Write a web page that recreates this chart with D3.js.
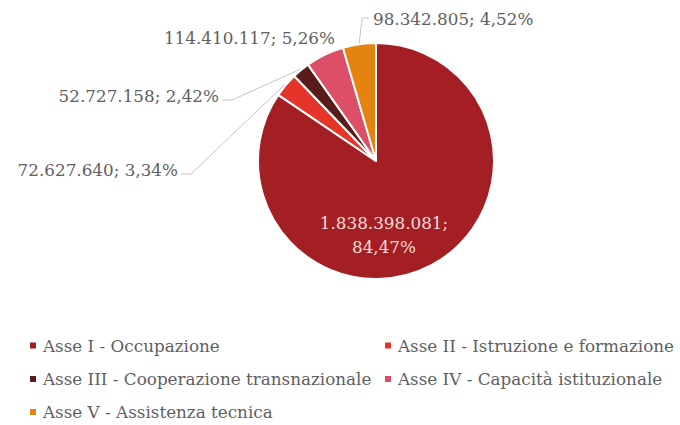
<!DOCTYPE html>
<html>
<head>
<meta charset="utf-8">
<script src="https://cdn.jsdelivr.net/npm/d3@7/dist/d3.min.js"></script>
<style>
  html, body { margin: 0; padding: 0; background: #ffffff; }
  svg { display: block; }
</style>
</head>
<body>
<svg id="chart" width="680" height="425"></svg>
<script>
// Risorse per Asse (euro)
const categories = [
  "Asse I - Occupazione",
  "Asse II - Istruzione e formazione",
  "Asse III - Cooperazione transnazionale",
  "Asse IV - Capacità istituzionale",
  "Asse V - Assistenza tecnica"
];
const values = [1838398081, 72627640, 52727158, 114410117, 98342805];
const colors = ["#a31f24", "#e5352a", "#5a1b1b", "#dc4f66", "#e4830f"];

// Label placement around the pie: [dx, dy, anchor] relative to the pie centre,
// plus whether a leader line joins the label to its slice.
const labelLayout = [
  { dx: 8,    dy: 68,   anchor: "middle", inside: true },
  { dx: -198, dy: 15,   anchor: "end",    leader: true },
  { dx: -157, dy: -59,  anchor: "end",    leader: true },
  { dx: -41,  dy: -117, anchor: "end",    leader: false },
  { dx: -3,   dy: -136, anchor: "start",  leader: true }
];

const FONT = "'DejaVu Serif', 'Liberation Serif', serif";
const TEXT_GREY = "#5f5f5f";

const it = d3.formatLocale({ decimal: ",", thousands: ".", grouping: [3], currency: ["€", ""] });
const fmtNum = it.format(",");
const fmtPct = it.format(",.2f");

const svg = d3.select("#chart");
const cx = 376, cy = 161, radius = 118;

const total = d3.sum(values);
const data = values.map((v, i) => ({ name: categories[i], value: v, share: v / total * 100, color: colors[i], i }));

const pie = d3.pie().value(d => d.value).sort(null);
const arcs = pie(data);
const arc = d3.arc().innerRadius(0).outerRadius(radius);

const g = svg.append("g").attr("transform", `translate(${cx},${cy})`);

g.selectAll("path.slice")
  .data(arcs)
  .enter().append("path")
  .attr("class", "slice")
  .attr("d", arc)
  .attr("fill", d => d.data.color)
  .attr("stroke", "#ffffff")
  .attr("stroke-width", 2)
  .attr("stroke-linejoin", "round");

// Data labels
const labelSize = 16.8;
arcs.forEach((a, k) => {
  const L = labelLayout[k];
  const num = fmtNum(a.data.value);
  const pct = fmtPct(a.data.share) + "%";
  if (L.inside) {
    const t = g.append("text")
      .attr("text-anchor", "middle")
      .attr("font-family", FONT)
      .attr("font-size", labelSize)
      .attr("fill", "#f6dcd9");
    t.append("tspan").attr("x", L.dx).attr("y", L.dy).text(num + ";");
    t.append("tspan").attr("x", L.dx).attr("y", L.dy + 24).text(pct);
    return;
  }
  g.append("text")
    .attr("x", L.dx).attr("y", L.dy)
    .attr("text-anchor", L.anchor)
    .attr("font-family", FONT)
    .attr("font-size", labelSize)
    .attr("fill", TEXT_GREY)
    .text(num + "; " + pct);

  if (L.leader) {
    const mid = (a.startAngle + a.endAngle) / 2;
    const tip = [Math.sin(mid) * (radius + 1), -Math.cos(mid) * (radius + 1)];
    const lineY = L.dy - (L.anchor === "start" ? 7 : 2);
    let pts;
    if (L.anchor === "end") {
      const x0 = L.dx + 3;
      pts = [[x0, lineY], [x0 + 10, lineY], tip];
    } else {
      const x0 = L.dx - 4;
      pts = [[x0, lineY], [tip[0] + 3, lineY], tip];
    }
    g.append("path")
      .attr("d", d3.line()(pts))
      .attr("fill", "none")
      .attr("stroke", "#c4c4c4")
      .attr("stroke-width", 1);
  }
});

// Legend: two columns, filled row by row
const legendCols = [30, 385];
const legendRows = [345.5, 379, 412];
const legend = svg.append("g");
data.forEach((d, i) => {
  const x = legendCols[i % 2];
  const y = legendRows[Math.floor(i / 2)];
  legend.append("rect")
    .attr("x", x).attr("y", y - 3)
    .attr("width", 6).attr("height", 6)
    .attr("fill", d.color);
  legend.append("text")
    .attr("x", x + 13).attr("y", y + 6)
    .attr("font-family", FONT)
    .attr("font-size", 16.8)
    .attr("fill", TEXT_GREY)
    .text(d.name);
});
</script>
</body>
</html>
